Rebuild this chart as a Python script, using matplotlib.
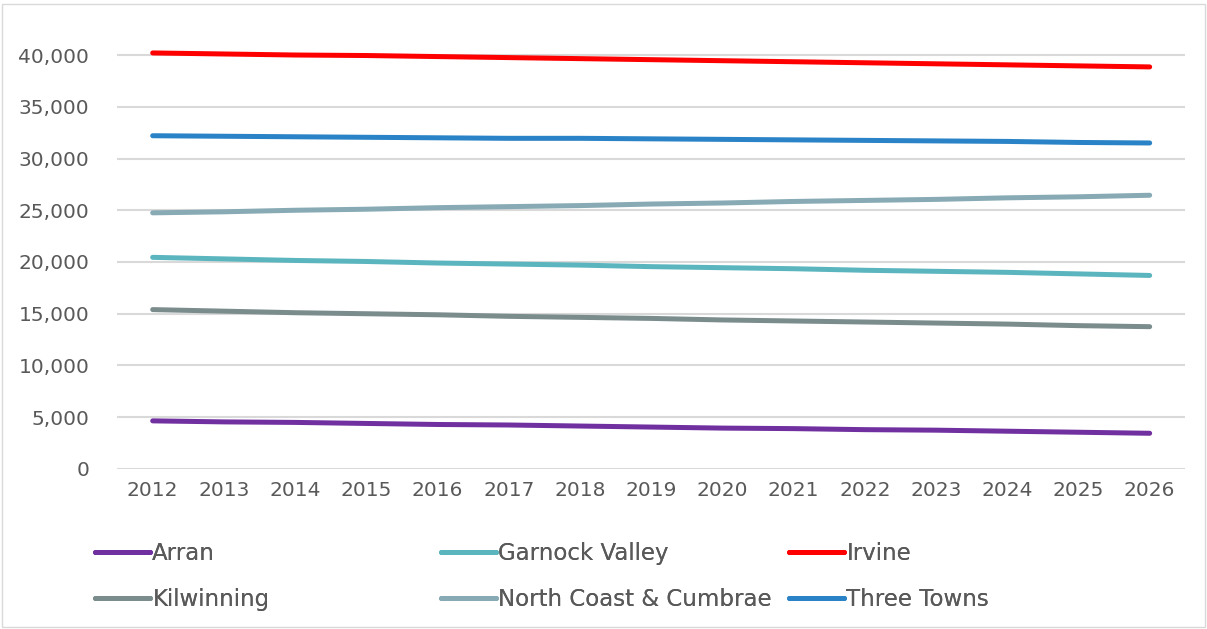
import matplotlib
matplotlib.use("Agg")
import matplotlib.pyplot as plt
from matplotlib.patches import Rectangle

years = [str(y) for y in range(2012, 2027)]

arran = [4650, 4550, 4500, 4400, 4300, 4250, 4150, 4050, 3950, 3900, 3800, 3750, 3650, 3550, 3450]
garnock_valley = [20450, 20300, 20150, 20050, 19900, 19800, 19700, 19550, 19450, 19350, 19200, 19100, 19000, 18850, 18700]
irvine = [40200, 40100, 40000, 39950, 39850, 39750, 39650, 39550, 39450, 39350, 39250, 39150, 39050, 38950, 38850]
kilwinning = [15400, 15250, 15100, 15000, 14900, 14750, 14650, 14550, 14400, 14300, 14200, 14100, 14000, 13850, 13750]
north_coast = [24750, 24850, 25000, 25100, 25250, 25350, 25450, 25600, 25700, 25850, 25950, 26050, 26200, 26300, 26450]
three_towns = [32200, 32150, 32100, 32050, 32000, 31950, 31950, 31900, 31850, 31800, 31750, 31700, 31650, 31550, 31500]

series = [
    ("Arran", arran, "#7030A0"),
    ("Garnock Valley", garnock_valley, "#5BB5BF"),
    ("Irvine", irvine, "#FF0000"),
    ("Kilwinning", kilwinning, "#7B8C8D"),
    ("North Coast & Cumbrae", north_coast, "#87AAB4"),
    ("Three Towns", three_towns, "#2A83C6"),
]

text_color = "#595959"
plt.rcParams["font.family"] = ["DejaVu Sans"]

fig = plt.figure(figsize=(12.07, 6.29), dpi=100)
ax = fig.add_axes([0.097, 0.2544, 0.885, 0.682])

handles = {}
for name, values, color in series:
    (line,) = ax.plot(years, values, color=color, linewidth=3.6,
                      solid_capstyle="round", label=name, zorder=3)
    handles[name] = line

ax.set_xlim(-0.5, 14.5)
ax.set_ylim(0, 41450)
ax.set_yticks(range(0, 40001, 5000))
ax.yaxis.set_major_formatter(matplotlib.ticker.FuncFormatter(lambda v, p: f"{int(v):,}"))
ax.grid(axis="y", color="#D9D9D9", linewidth=1.5, zorder=0)
for s in ax.spines.values():
    s.set_visible(False)
ax.tick_params(length=0, labelsize=14.5, labelcolor=text_color, pad=9)
ax.tick_params(axis="y", pad=20)

# legend in three columns, two rows
columns = [("Arran", "Kilwinning"), ("Garnock Valley", "North Coast & Cumbrae"), ("Irvine", "Three Towns")]
col_x = [95 / 1207, 441 / 1207, 789 / 1207]
for names, x in zip(columns, col_x):
    leg = fig.legend([handles[n] for n in names], names, loc="upper left",
                     bbox_to_anchor=(x, 1 - 542 / 629), frameon=False,
                     fontsize=16.5, labelcolor=text_color, handlelength=2.4,
                     handletextpad=0.1, labelspacing=1.02, borderaxespad=0,
                     borderpad=0)
    fig.add_artist(leg)

fig.patches.append(Rectangle((0.002, 0.003), 0.996, 0.99, transform=fig.transFigure,
                             fill=False, edgecolor="#D9D9D9", linewidth=1))

fig.savefig("out.png", dpi=100)
